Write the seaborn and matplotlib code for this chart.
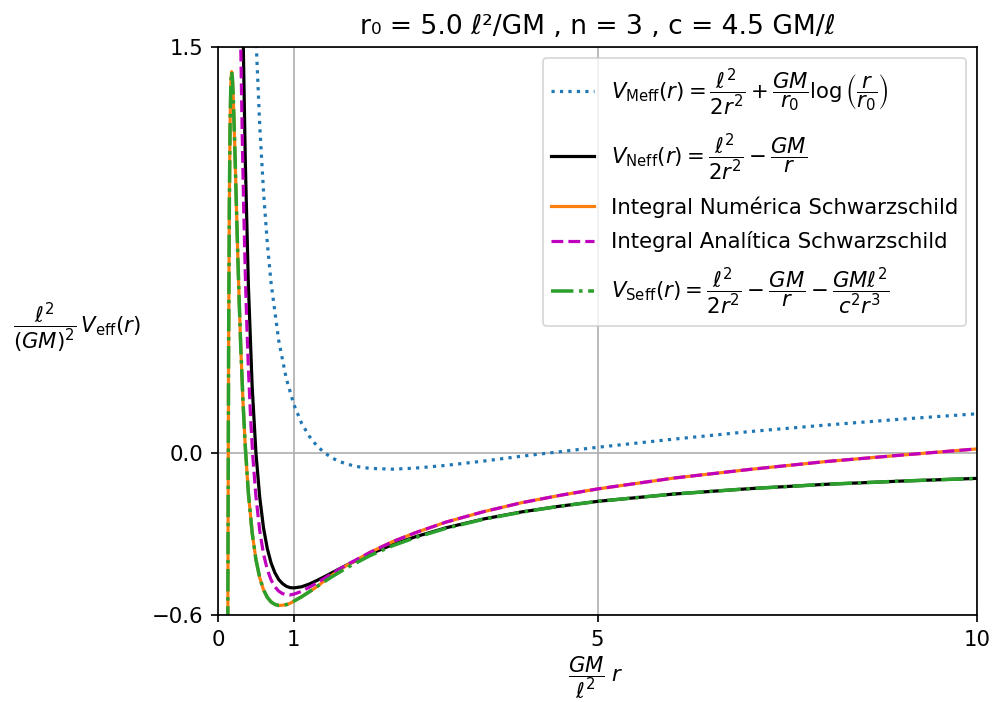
import matplotlib
matplotlib.use("Agg")
import matplotlib.pyplot as plt
import seaborn as sns
import numpy as np

# ---- data (x = GM r / l^2, y = l^2 V_eff / (GM)^2) ----
r_meff = [0.50, 0.55, 0.60, 0.65, 0.70, 0.80, 0.90, 1.00, 1.10, 1.20, 1.30, 1.40,
          1.50, 1.60, 1.80, 2.00, 2.30, 2.60, 3.00, 3.50, 4.00, 5.00, 6.00, 7.00,
          8.00, 9.00, 10.0]
v_meff = [1.539, 1.211, 0.965, 0.775, 0.627, 0.415, 0.274, 0.178, 0.110, 0.062,
          0.026, 0.0005, -0.019, -0.033, -0.050, -0.058, -0.061, -0.057, -0.047,
          -0.031, -0.013, 0.020, 0.050, 0.078, 0.102, 0.124, 0.144]

r_neff = [0.33, 0.36, 0.40, 0.45, 0.50, 0.55, 0.60, 0.65, 0.70, 0.75, 0.80, 0.85,
          0.90, 0.95, 1.00, 1.10, 1.20, 1.30, 1.40, 1.50, 1.70, 2.00, 2.30, 2.60,
          3.00, 3.50, 4.00, 4.50, 5.00, 6.00, 7.00, 8.00, 9.00, 10.0]
v_neff = [1.561, 1.080, 0.625, 0.247, 0.000, -0.165, -0.278, -0.355, -0.408,
          -0.444, -0.469, -0.484, -0.494, -0.499, -0.500, -0.496, -0.486, -0.473,
          -0.459, -0.444, -0.415, -0.375, -0.340, -0.311, -0.278, -0.245, -0.219,
          -0.198, -0.180, -0.153, -0.133, -0.117, -0.105, -0.095]

r_seff = [0.125, 0.13, 0.14, 0.15, 0.16, 0.17, 0.18, 0.19, 0.20, 0.22, 0.24, 0.26,
          0.28, 0.30, 0.33, 0.36, 0.40, 0.45, 0.50, 0.55, 0.60, 0.65, 0.70, 0.75,
          0.80, 0.85, 0.90, 0.95, 1.00, 1.10, 1.20, 1.30, 1.40, 1.50, 1.70, 2.00,
          2.30, 2.60, 3.00, 3.50, 4.00, 4.50, 5.00, 6.00, 7.00, 8.00, 9.00, 10.0]
v_seff = [-1.28, -0.583, 0.370, 0.924, 1.225, 1.368, 1.409, 1.387, 1.327, 1.147,
          0.942, 0.740, 0.556, 0.393, 0.187, 0.022, -0.147, -0.295, -0.395, -0.462,
          -0.507, -0.535, -0.552, -0.561, -0.565, -0.564, -0.562, -0.557, -0.549,
          -0.533, -0.515, -0.496, -0.477, -0.459, -0.425, -0.381, -0.344, -0.314,
          -0.280, -0.246, -0.220, -0.198, -0.180, -0.153, -0.133, -0.117, -0.105,
          -0.095]

r_anal = [0.29, 0.30, 0.32, 0.34, 0.36, 0.38, 0.40, 0.43, 0.46, 0.50, 0.55, 0.60,
          0.65, 0.70, 0.75, 0.80, 0.85, 0.90, 0.95, 1.00, 1.10, 1.20, 1.30, 1.40,
          1.50, 1.70, 2.00, 2.30, 2.60, 3.00, 3.50, 4.00, 4.50, 5.00, 6.00, 7.00,
          8.00, 9.00, 10.0]
v_anal = [1.705, 1.506, 1.166, 0.889, 0.661, 0.473, 0.317, 0.128, -0.017, -0.162,
          -0.288, -0.375, -0.432, -0.471, -0.496, -0.512, -0.521, -0.525, -0.526,
          -0.523, -0.513, -0.498, -0.482, -0.465, -0.447, -0.414, -0.369, -0.329,
          -0.296, -0.257, -0.218, -0.185, -0.158, -0.134, -0.094, -0.062, -0.033,
          -0.009, 0.014]

r_num = [0.125, 0.13, 0.14, 0.15, 0.16, 0.17, 0.18, 0.19, 0.20, 0.22, 0.24, 0.26,
         0.28, 0.30, 0.33, 0.36, 0.40, 0.45, 0.50, 0.55, 0.60, 0.65, 0.70, 0.75,
         0.80, 0.85, 0.90, 0.95, 1.00, 1.10, 1.20, 1.30, 1.40, 1.50, 1.70, 2.00,
         2.30, 2.60, 3.00, 3.50, 4.00, 4.50, 5.00, 6.00, 7.00, 8.00, 9.00, 10.0]
v_num = [-1.28, -0.583, 0.370, 0.924, 1.225, 1.368, 1.409, 1.387, 1.327, 1.147,
         0.942, 0.740, 0.556, 0.393, 0.187, 0.022, -0.147, -0.295, -0.395, -0.462,
         -0.507, -0.535, -0.552, -0.561, -0.565, -0.564, -0.562, -0.557, -0.549,
         -0.533, -0.515, -0.496, -0.474, -0.453, -0.416, -0.369, -0.329, -0.296,
         -0.257, -0.218, -0.185, -0.158, -0.134, -0.094, -0.062, -0.033, -0.009,
         0.014]

x_ticks = [0, 1, 5, 10]
y_ticks = [-0.6, 0.0, 1.5]

title_text = "r\u2080 = 5.0 \u2113\u00b2/GM , n = 3 , c = 4.5 GM/\u2113"
lab_meff = r"$V_{\rm Meff}(r) = \dfrac{\ell^2}{2r^2} + \dfrac{GM}{r_0}\log\left(\dfrac{r}{r_0}\right)$"
lab_neff = r"$V_{\rm Neff}(r) = \dfrac{\ell^2}{2r^2} - \dfrac{GM}{r}$"
lab_num = "Integral Numérica Schwarzschild"
lab_anal = "Integral Analítica Schwarzschild"
lab_seff = r"$V_{\rm Seff}(r) = \dfrac{\ell^2}{2r^2} - \dfrac{GM}{r} - \dfrac{GM\ell^2}{c^2r^3}$"

S = 1.53  # overall scale of the reference rendering
LW = 1.5 * S

# ---- figure ----
fig = plt.figure(figsize=(9.93, 7.02), dpi=100)
ax = fig.add_axes([0.2195, 0.124, 0.7645, 0.809])

sns.lineplot(x=r_meff, y=v_meff, ax=ax, color="#1f77b4", linestyle=":", lw=LW,
             label=lab_meff, sort=False)
sns.lineplot(x=r_neff, y=v_neff, ax=ax, color="black", linestyle="-", lw=LW,
             label=lab_neff, sort=False)
sns.lineplot(x=r_num, y=v_num, ax=ax, color="#ff7f0e", linestyle="-", lw=LW,
             label=lab_num, sort=False)
sns.lineplot(x=r_anal, y=v_anal, ax=ax, color="m", linestyle="--", lw=LW,
             label=lab_anal, sort=False)
sns.lineplot(x=r_seff, y=v_seff, ax=ax, color="#2ca02c", linestyle="-.", lw=LW * 1.1,
             label=lab_seff, sort=False)

ax.set_xlim(0, 10)
ax.set_ylim(-0.6, 1.5)
ax.set_xticks(x_ticks)
ax.set_xticklabels([str(t) for t in x_ticks])
ax.set_yticks(y_ticks)
ax.set_yticklabels(["\u22120.6", "0.0", "1.5"])
ax.tick_params(labelsize=10 * S, length=3.5 * S, width=0.8 * S, pad=3.5 * S)
for sp in ax.spines.values():
    sp.set_linewidth(0.8 * S)
ax.grid(True, color="#b0b0b0", lw=0.8 * S)

ax.set_title(title_text, fontsize=12 * S * 1.04, pad=6 * S)
ax.set_xlabel(r"$\dfrac{GM}{\ell^2}\;r$", fontsize=10 * S, va="center", ha="center")
ax.xaxis.set_label_coords(0.497, -0.11)
ax.set_ylabel(r"$\dfrac{\ell^2}{(GM)^2}\,V_{\rm eff}(r)$", fontsize=10 * S,
              rotation=0, va="center", ha="center")
ax.yaxis.set_label_coords(-0.186, 0.505)

leg = ax.legend(loc="upper right", fontsize=10 * S, framealpha=0.8, labelspacing=0.64)
leg.get_frame().set_linewidth(0.8 * S)

fig.savefig("out.png", dpi=100)
